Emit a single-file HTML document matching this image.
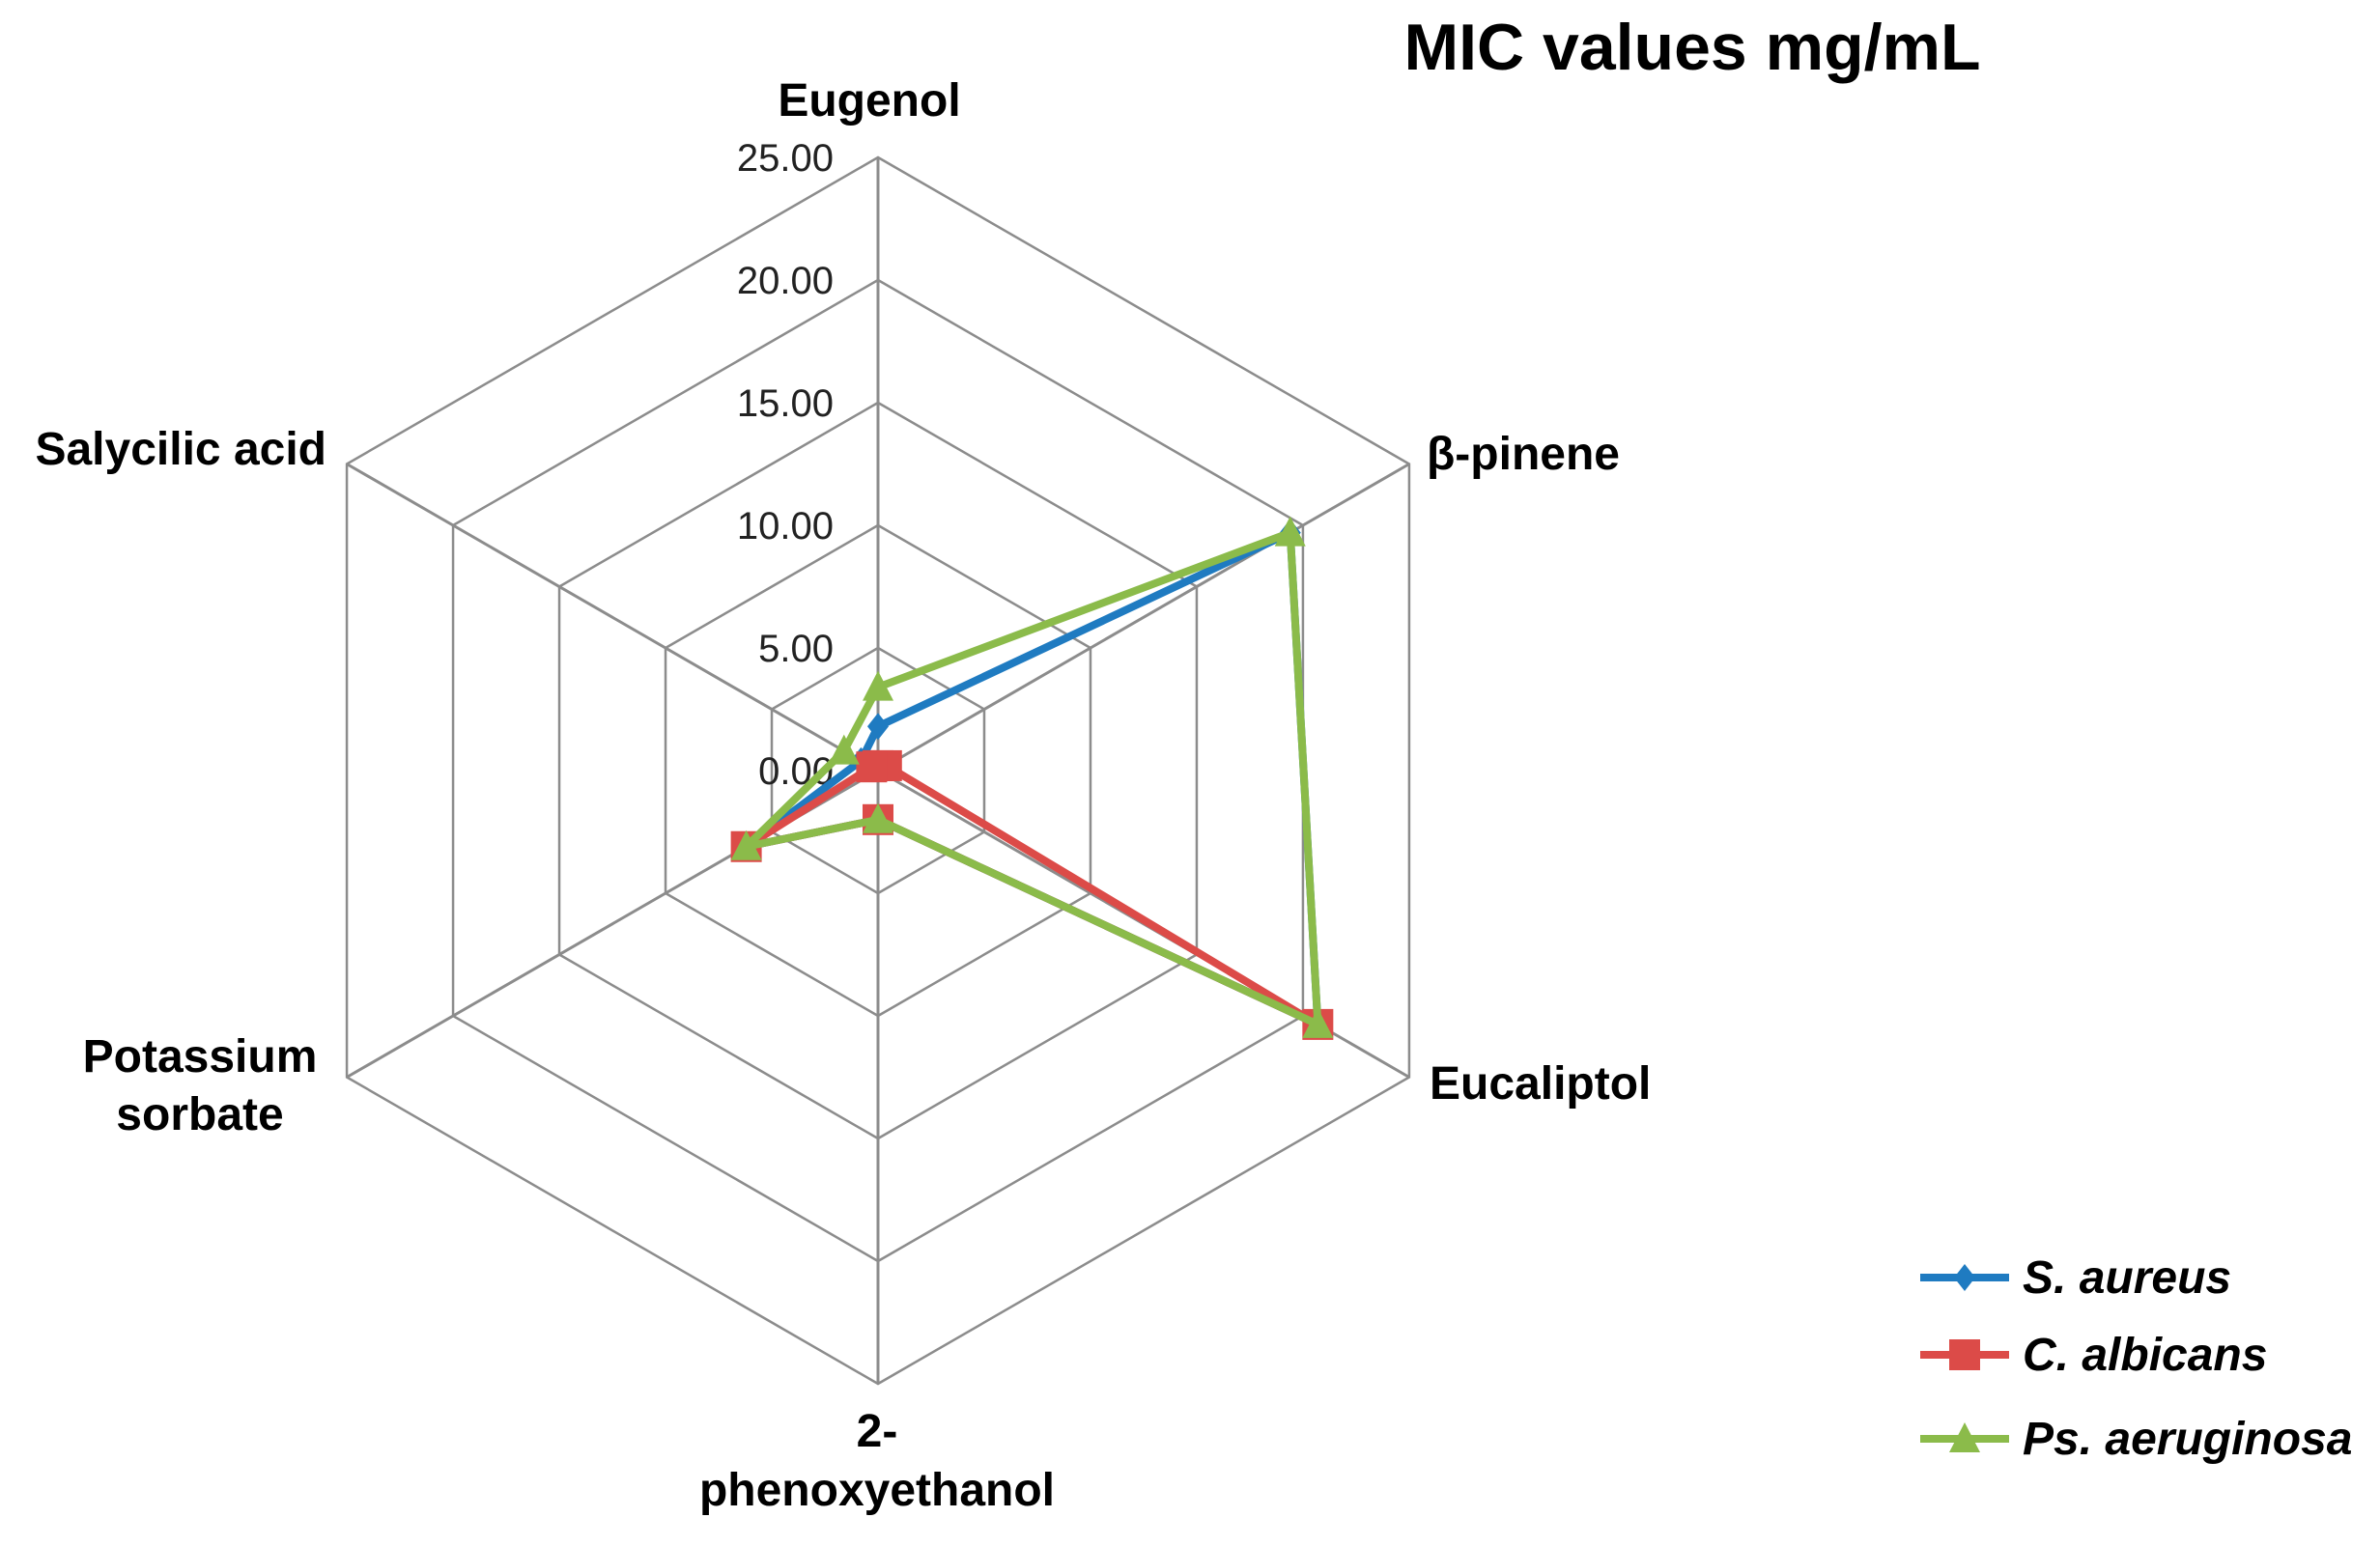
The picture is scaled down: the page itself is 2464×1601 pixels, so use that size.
<!DOCTYPE html>
<html><head><meta charset="utf-8"><style>
body{margin:0;background:#fff}
svg text{font-family:"Liberation Sans",Arial,sans-serif}
</style></head><body>
<svg id="chart" width="2464" height="1596" viewBox="0 0 2464 1596" xmlns="http://www.w3.org/2000/svg">
<text x="1752" y="72" font-size="68" font-weight="bold" text-anchor="middle">MIC values mg/mL</text>
<g id="grid"></g>
<g id="ticks"></g>
<g id="series"></g>
<g font-size="48" font-weight="bold">
<text x="900" y="120" text-anchor="middle">Eugenol</text>
<text x="1477" y="486">β-pinene</text>
<text x="1480" y="1138">Eucaliptol</text>
<text x="908" y="1498" text-anchor="middle">2-</text>
<text x="908" y="1559" text-anchor="middle">phenoxyethanol</text>
<text x="207" y="1110" text-anchor="middle">Potassium</text>
<text x="207" y="1170" text-anchor="middle">sorbate</text>
<text x="338" y="481" text-anchor="end">Salycilic acid</text>
</g>
<g id="legend" font-size="48" font-weight="bold" font-style="italic"></g>
</svg>
<script>
const categories=["Eugenol","β-pinene","Eucaliptol","2-phenoxyethanol","Potassium sorbate","Salycilic acid"];
const tickValues=[0,5,10,15,20,25];
const tickLabels=["0.00","5.00","10.00","15.00","20.00","25.00"];
const seriesNames=["S. aureus","C. albicans","Ps. aeruginosa"];
const sAureus=[1.8,19.4,20.7,2.0,6.2,0.8];
const cAlbicans=[0.2,0.4,20.7,2.0,6.2,0.3];
const psAeruginosa=[3.4,19.4,20.7,2.0,6.2,1.6];
const colors=["#1f7bc1","#dc4b48","#8bbb4a"];
const NS="http://www.w3.org/2000/svg";
const cx=909,cy=798,R=635,maxV=25;
function pt(i,v){const a=-Math.PI/2+i*Math.PI/3;const r=v/maxV*R;return [cx+r*Math.cos(a),cy+r*Math.sin(a)];}
function mk(tag,attrs,parent){const e=document.createElementNS(NS,tag);for(const k in attrs)e.setAttribute(k,attrs[k]);parent.appendChild(e);return e;}
const grid=document.getElementById('grid');
tickValues.forEach(t=>{if(t===0)return;const p=categories.map((c,i)=>pt(i,t).join(',')).join(' ');
const e=mk('polygon',{points:p,fill:'none',stroke:'#8c8c8c','stroke-width':2.5},grid);

});
categories.forEach((c,i)=>{const [x,y]=pt(i,maxV);const e=mk('line',{x1:cx,y1:cy,x2:x,y2:y,stroke:'#8c8c8c','stroke-width':3},grid);

});
const ticks=document.getElementById('ticks');
tickValues.forEach((t,k)=>{const [x,y]=pt(0,t);const e=mk('text',{x:x-46,y:y+14,'font-size':40,'text-anchor':'end',fill:'#222'},ticks);e.textContent=tickLabels[k];

});
const sg=document.getElementById('series');
const allSeries=[sAureus,cAlbicans,psAeruginosa];
function marker(k,x,y,parent){let e;
if(k===0)e=mk('polygon',{points:`${x},${y-14} ${x+11},${y} ${x},${y+14} ${x-11},${y}`,fill:colors[0]},parent);
else if(k===1)e=mk('rect',{x:x-16,y:y-16,width:32,height:32,fill:colors[1]},parent);
else e=mk('polygon',{points:`${x},${y-17} ${x+16},${y+14} ${x-16},${y+14}`,fill:colors[2]},parent);

}
allSeries.forEach((vals,k)=>{const g=mk('g',{},sg);


const pts=vals.map((v,i)=>pt(i,v));
const e=mk('polygon',{points:pts.map(p=>p.join(',')).join(' '),fill:'none',stroke:colors[k],'stroke-width':8,'stroke-linejoin':'round'},g);


pts.forEach(p=>marker(k,p[0],p[1],g));});
const lg=document.getElementById('legend');
const ly=[1323,1403,1490];
seriesNames.forEach((n,k)=>{const g=mk('g',{},lg);


mk('line',{x1:1988,y1:ly[k],x2:2080,y2:ly[k],stroke:colors[k],'stroke-width':8},g);
marker(k,2034,ly[k],g);
const t=mk('text',{x:2094,y:ly[k]+16},g);t.textContent=n;});
</script>
</body></html>
